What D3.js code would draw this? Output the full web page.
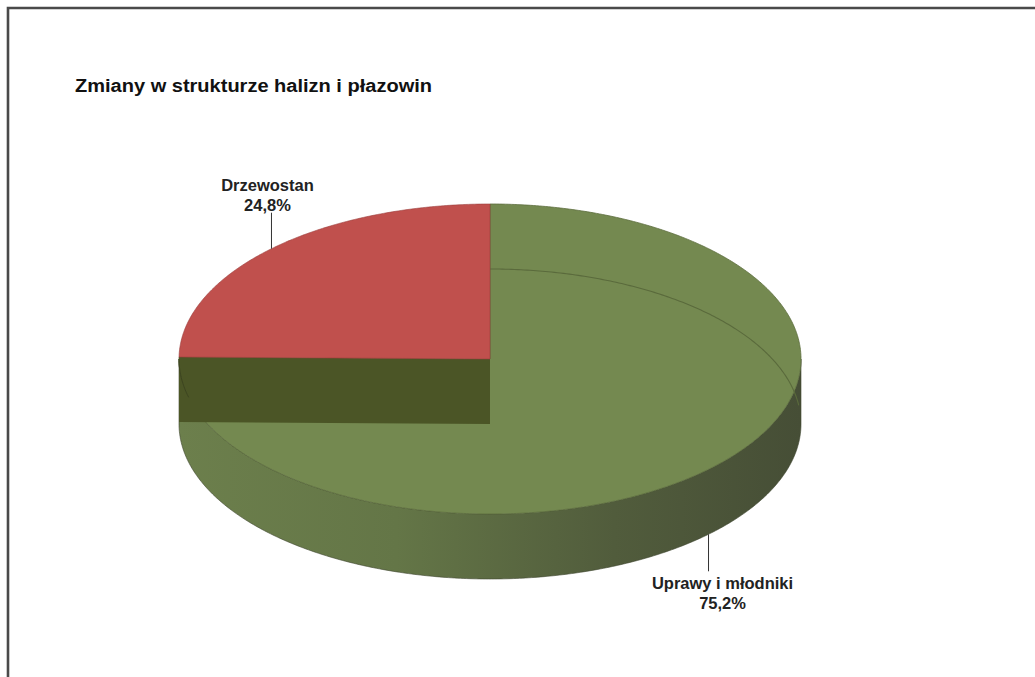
<!DOCTYPE html>
<html>
<head>
<meta charset="utf-8">
<script src="https://cdn.jsdelivr.net/npm/d3@7/dist/d3.min.js"></script>
<style>
  html, body { margin: 0; padding: 0; background: #fff; }
  svg { display: block; }
</style>
</head>
<body>
<svg id="chart" width="1035" height="677"></svg>
<script>
// ---- data ----
const categories = ["Uprawy i młodniki", "Drzewostan"];
const values = [75.2, 24.8];
const valueLabels = ["75,2%", "24,8%"];
const title = "Zmiany  w strukturze halizn i płazowin";

// ---- layout ----
const W = 1035, H = 677;
const cx = 490, cy = 359, rx = 311, ry = 155, depth = 65;
const topColors = ["#748950", "#c0504d"];

const svg = d3.select("#chart");

// defs: side gradient
const defs = svg.append("defs");
const grad = defs.append("linearGradient").attr("id", "sideGrad")
  .attr("gradientUnits", "userSpaceOnUse")
  .attr("x1", cx - rx).attr("x2", cx + rx).attr("y1", 0).attr("y2", 0);
grad.append("stop").attr("offset", "0%").attr("stop-color", "#6c7f4c");
grad.append("stop").attr("offset", "35%").attr("stop-color", "#647647");
grad.append("stop").attr("offset", "70%").attr("stop-color", "#515c3c");
grad.append("stop").attr("offset", "100%").attr("stop-color", "#464e36");

// frame
svg.append("path")
  .attr("d", `M8,${H + 5} L8,8 L${W + 5},8`)
  .attr("fill", "none").attr("stroke", "#4a4a4a").attr("stroke-width", 2.6);

// title
svg.append("text")
  .attr("x", 75).attr("y", 92)
  .attr("font-family", "Liberation Sans, Arial, sans-serif")
  .attr("font-weight", "bold").attr("font-size", 18)
  .attr("textLength", 357).attr("lengthAdjust", "spacingAndGlyphs")
  .attr("fill", "#111")
  .text(title);

// pie
const pie = d3.pie().sort(null).startAngle(0).endAngle(2 * Math.PI);
const arcs = pie(values);

// projection helpers (d3 angle: 0 at top, clockwise)
const px = a => cx + rx * Math.sin(a);
const py = (a, dz = 0) => cy - ry * Math.cos(a) + dz;
function arcPts(a0, a1, dz) {
  const n = Math.max(2, Math.ceil(Math.abs(a1 - a0) / 0.01));
  return d3.range(n + 1).map(i => {
    const a = a0 + (a1 - a0) * i / n;
    return [px(a), py(a, dz)];
  });
}
const line = d3.line();

// side wall (front half: angle PI/2 .. 3PI/2)
const sidePts = arcPts(Math.PI / 2, 3 * Math.PI / 2, 0)
  .concat(arcPts(3 * Math.PI / 2, Math.PI / 2, depth));
svg.append("path")
  .attr("d", line(sidePts) + "Z")
  .attr("fill", "url(#sideGrad)")
  .attr("stroke", "#3f4630").attr("stroke-width", 0.6);

// top faces
function topPath(d) {
  const pts = [[cx, cy]].concat(arcPts(d.startAngle, d.endAngle, 0));
  return line(pts) + "Z";
}
const g = svg.append("g");
// green top
g.append("path")
  .attr("d", topPath(arcs[0]))
  .attr("fill", topColors[0])
  .attr("stroke", "#5d6d3e").attr("stroke-width", 0.8);

// faint back edge of bottom ellipse seen through green top (top-right quadrant)
g.append("path")
  .attr("d", line(arcPts(0, Math.PI / 2 - 0.12, depth)))
  .attr("fill", "none").attr("stroke", "#5a6a3c").attr("stroke-width", 1.1);

// cut face at slice boundary
const b = arcs[0].endAngle;
const cutPts = [[cx, cy], [px(b), py(b)], [px(b), py(b, depth)], [cx, cy + depth]];
g.append("path")
  .attr("d", line(cutPts) + "Z")
  .attr("fill", "#4b5526");

// left wall edge line through cut face
g.append("path")
  .attr("d", line(arcPts(3 * Math.PI / 2 - 0.25, 3 * Math.PI / 2, 0)))
  .attr("fill", "none").attr("stroke", "#3c4420").attr("stroke-width", 1);

// red top
g.append("path")
  .attr("d", topPath(arcs[1]))
  .attr("fill", topColors[1])
  .attr("stroke", "#9a3d3a").attr("stroke-width", 0.6);

// labels
const font = "Liberation Sans, Arial, sans-serif";
arcs.forEach((d, i) => {
  const mid = (d.startAngle + d.endAngle) / 2;
  const front = Math.cos(mid) < 0;
  const ax = px(mid);
  const ay = front ? py(mid, depth) : py(mid);
  const dir = front ? 1 : -1;
  const len = front ? 37 : 36;
  svg.append("line")
    .attr("x1", ax).attr("y1", ay)
    .attr("x2", ax).attr("y2", ay + dir * len)
    .attr("stroke", "#333").attr("stroke-width", 1);
  const lx = ax + (front ? 14 : -4);
  const ly1 = front ? ay + len + 18 : ay - len - 22;
  const t = svg.append("text")
    .attr("text-anchor", "middle")
    .attr("font-family", font).attr("font-weight", "bold").attr("font-size", 16.5)
    .attr("fill", "#222");
  t.append("tspan").attr("x", lx).attr("y", ly1).text(categories[i]);
  t.append("tspan").attr("x", lx).attr("y", ly1 + 20).text(valueLabels[i]);
});
</script>
</body>
</html>
